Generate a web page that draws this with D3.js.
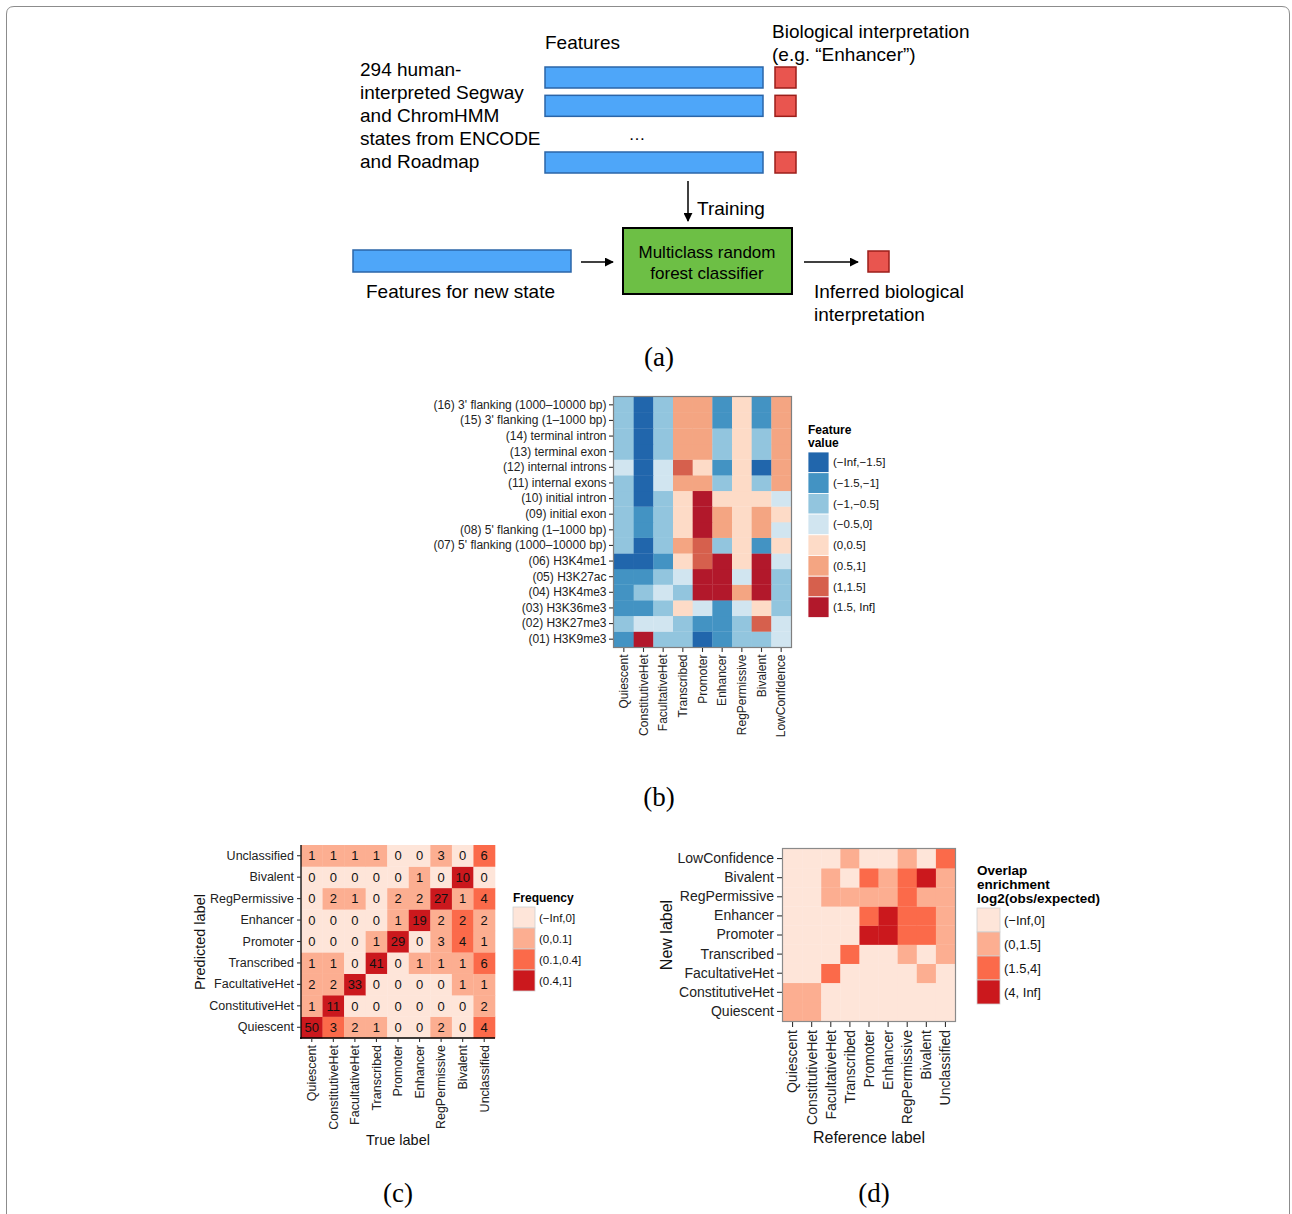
<!DOCTYPE html>
<html>
<head>
<meta charset="utf-8">
<script src="https://cdn.jsdelivr.net/npm/d3@7"></script>
<style>
  body { margin: 0; background: #fff; }
  svg { display: block; }
  text { font-family: "Liberation Sans", Arial, Helvetica, sans-serif; }
</style>
</head>
<body>
<svg id="fig" width="1292" height="1214"></svg>
<script>
// ---------- Panel (a): schematic text ----------
const sourceLines = ["294 human-", "interpreted Segway", "and ChromHMM", "states from ENCODE", "and Roadmap"];
const interpretationLines = ["Biological interpretation", "(e.g. \u201cEnhancer\u201d)"];
const classifierLines = ["Multiclass random", "forest classifier"];
const inferredLines = ["Inferred biological", "interpretation"];
const trainingSlots = [0, 1, 3];   // example rows drawn; slot 2 holds the ellipsis

// ---------- Panel (b): feature heatmap ----------
const stateNames = ["Quiescent", "ConstitutiveHet", "FacultativeHet", "Transcribed", "Promoter",
                    "Enhancer", "RegPermissive", "Bivalent", "LowConfidence"];
const featureNames = ["(01) H3K9me3", "(02) H3K27me3", "(03) H3K36me3", "(04) H3K4me3", "(05) H3K27ac",
  "(06) H3K4me1", "(07) 5' flanking (1000\u201310000 bp)", "(08) 5' flanking (1\u20131000 bp)",
  "(09) initial exon", "(10) initial intron", "(11) internal exons", "(12) internal introns",
  "(13) terminal exon", "(14) terminal intron", "(15) 3' flanking (1\u20131000 bp)",
  "(16) 3' flanking (1000\u201310000 bp)"];
// one row per feature (01..16), one column per state
const featureValues = [
  [-1.2,  2.3, -0.7, -0.8, -1.9, -1.1, -0.6, -0.7, -0.3],
  [-0.7, -0.3, -0.2, -0.8, -1.2, -1.3, -0.7,  1.3, -0.2],
  [-1.1, -1.2, -0.6,  0.3, -0.3, -1.2, -0.4,  0.2, -0.7],
  [-1.2, -0.8, -0.3, -0.7,  2.4,  1.8,  0.7,  2.0, -0.6],
  [-1.3, -1.1, -0.7, -0.2,  2.6,  1.9, -0.3,  1.7, -0.6],
  [-1.7, -1.8, -1.1,  0.2,  1.2,  2.1,  0.1,  1.9, -0.2],
  [-0.8, -1.6, -0.7,  0.6,  1.3, -0.7,  0.2, -1.2,  0.2],
  [-0.7, -1.3, -0.8,  0.3,  2.2,  0.7,  0.1,  0.6, -0.1],
  [-0.7, -1.2, -0.8,  0.3,  2.3,  0.6,  0.1,  0.6,  0.2],
  [-0.8, -1.7, -0.7,  0.2,  1.9,  0.3,  0.2,  0.3, -0.2],
  [-0.7, -1.8, -0.3,  0.7,  0.8, -0.7,  0.2, -0.8,  0.7],
  [-0.3, -1.8, -0.4,  1.2,  0.3, -1.1,  0.2, -1.6,  0.8],
  [-0.8, -1.9, -0.7,  0.8,  0.7, -0.8,  0.2, -0.9,  0.7],
  [-0.8, -1.9, -0.7,  0.8,  0.8, -0.8,  0.2, -0.8,  0.7],
  [-0.8, -1.9, -0.8,  0.7,  0.7, -1.1,  0.2, -1.2,  0.7],
  [-0.8, -1.9, -0.8,  0.7,  0.7, -1.2,  0.2, -1.2,  0.8]
];
const featureBreaks = [-1.5, -1, -0.5, 0, 0.5, 1, 1.5];
const featureBins = ["(\u2212Inf,\u22121.5]", "(\u22121.5,\u22121]", "(\u22121,\u22120.5]", "(\u22120.5,0]",
                     "(0,0.5]", "(0.5,1]", "(1,1.5]", "(1.5, Inf]"];
const featureColors = ["#2166ac", "#4393c3", "#92c5de", "#d1e5f0", "#fddbc7", "#f4a582", "#d6604d", "#b2182b"];

// ---------- Panel (c): confusion matrix ----------
const trueLabels = ["Quiescent", "ConstitutiveHet", "FacultativeHet", "Transcribed", "Promoter",
                    "Enhancer", "RegPermissive", "Bivalent", "Unclassified"];
const predictedLabels = trueLabels;
// one row per predicted label, one column per true label
const confusionCounts = [
  [50,  3,  2,  1,  0,  0,  2,  0,  4],
  [ 1, 11,  0,  0,  0,  0,  0,  0,  2],
  [ 2,  2, 33,  0,  0,  0,  0,  1,  1],
  [ 1,  1,  0, 41,  0,  1,  1,  1,  6],
  [ 0,  0,  0,  1, 29,  0,  3,  4,  1],
  [ 0,  0,  0,  0,  1, 19,  2,  2,  2],
  [ 0,  2,  1,  0,  2,  2, 27,  1,  4],
  [ 0,  0,  0,  0,  0,  1,  0, 10,  0],
  [ 1,  1,  1,  1,  0,  0,  3,  0,  6]
];
const frequencyBreaks = [0, 0.1, 0.4];
const frequencyBins = ["(\u2212Inf,0]", "(0,0.1]", "(0.1,0.4]", "(0.4,1]"];
const redColors = ["#fee5d9", "#fcae91", "#fb6a4a", "#cb181d"];

// ---------- Panel (d): overlap enrichment ----------
const referenceLabels = ["Quiescent", "ConstitutiveHet", "FacultativeHet", "Transcribed", "Promoter",
                         "Enhancer", "RegPermissive", "Bivalent", "Unclassified"];
const newLabels = ["Quiescent", "ConstitutiveHet", "FacultativeHet", "Transcribed", "Promoter",
                   "Enhancer", "RegPermissive", "Bivalent", "LowConfidence"];
// log2(obs/expected): one row per new label, one column per reference label
const overlapEnrichment = [
  [ 0.9,  1.1, -2.1, -3.0, -3.2, -2.8, -1.5, -2.6, -0.6],
  [ 0.8,  1.2, -1.8, -2.7, -3.1, -2.5, -1.7, -2.2, -0.4],
  [-1.6, -1.2,  2.8, -1.9, -2.4, -1.8, -0.7,  0.6, -0.3],
  [-1.4, -2.0, -1.1,  2.6, -1.5, -0.9,  0.7, -0.2,  0.5],
  [-2.2, -3.1, -1.6, -0.6,  4.7,  4.3,  2.2,  2.6,  0.4],
  [-2.0, -2.9, -1.2, -0.8,  3.4,  5.1,  2.7,  2.3,  0.6],
  [-1.7, -2.6,  0.6,  0.4,  0.7,  1.0,  2.4,  1.2,  0.5],
  [-1.9, -2.8,  0.5, -0.3,  3.0,  1.1,  2.9,  6.2,  0.9],
  [-0.8, -1.4, -0.5,  0.6, -0.4, -0.2,  0.8, -0.1,  2.1]
];
const enrichmentBreaks = [0, 1.5, 4];
const enrichmentBins = ["(\u2212Inf,0]", "(0,1.5]", "(1.5,4]", "(4, Inf]"];

// ---------- drawing ----------
const svg = d3.select("#fig");
const binColor = (breaks, colors) => v => colors[d3.bisectLeft(breaks, v)];

// figure frame, rounded at the top and running off the bottom edge
svg.append("path")
  .attr("d", "M6.5,1230 L6.5,14 Q6.5,6.5 14,6.5 L1282,6.5 Q1289.5,6.5 1289.5,14 L1289.5,1230")
  .attr("fill", "none").attr("stroke", "#8c8c8c").attr("stroke-width", 1);

const defs = svg.append("defs");
defs.append("marker").attr("id", "arrowhead")
  .attr("viewBox", "0 0 10 10").attr("refX", 9).attr("refY", 5)
  .attr("markerWidth", 9).attr("markerHeight", 9).attr("orient", "auto")
  .attr("markerUnits", "userSpaceOnUse")
  .append("path").attr("d", "M0,0 L10,5 L0,10 z").attr("fill", "#000");

function panelLetter(label, x, y) {
  svg.append("text").attr("x", x).attr("y", y).attr("text-anchor", "middle")
    .style("font-family", "'Liberation Serif', 'Times New Roman', serif")
    .style("font-size", "27px").attr("fill", "#000").text(label);
}

// ===== Panel (a) =====
(function drawSchematic() {
  const g = svg.append("g");
  const aFont = "19px";
  const blue = "#4ea6f9", blueEdge = "#2b65a8";
  const red = "#e9554f", redEdge = "#9c1e1a";

  g.append("text").attr("x", 545).attr("y", 49).style("font-size", aFont).text("Features");
  g.selectAll(null).data(interpretationLines).join("text")
    .attr("x", 772).attr("y", (d, i) => 38 + i * 23).style("font-size", aFont).text(d => d);
  g.selectAll(null).data(sourceLines).join("text")
    .attr("x", 360).attr("y", (d, i) => 76 + i * 23).style("font-size", aFont).text(d => d);

  const slotY = d3.scaleLinear().domain([0, 3]).range([67, 152]);
  g.selectAll(null).data(trainingSlots).join("rect")
    .attr("x", 545).attr("y", d => slotY(d)).attr("width", 218).attr("height", 21)
    .attr("fill", blue).attr("stroke", blueEdge).attr("stroke-width", 1.5);
  g.selectAll(null).data(trainingSlots).join("rect")
    .attr("x", 775).attr("y", d => slotY(d)).attr("width", 21).attr("height", 21)
    .attr("fill", red).attr("stroke", redEdge).attr("stroke-width", 1.5);
  g.append("text").attr("x", 637).attr("y", slotY(2) + 16).attr("text-anchor", "middle")
    .style("font-size", "17px").text("\u2026");

  // training arrow
  g.append("line").attr("x1", 688).attr("y1", 181).attr("x2", 688).attr("y2", 221)
    .attr("stroke", "#000").attr("stroke-width", 1.5).attr("marker-end", "url(#arrowhead)");
  g.append("text").attr("x", 697).attr("y", 215).style("font-size", aFont).text("Training");

  // classifier box
  g.append("rect").attr("x", 623).attr("y", 228).attr("width", 169).attr("height", 66)
    .attr("fill", "#6dbf45").attr("stroke", "#000").attr("stroke-width", 2);
  g.selectAll(null).data(classifierLines).join("text")
    .attr("x", 707).attr("y", (d, i) => 258 + i * 21).attr("text-anchor", "middle")
    .style("font-size", "17px").text(d => d);

  // new state
  g.append("rect").attr("x", 353).attr("y", 250).attr("width", 218).attr("height", 22)
    .attr("fill", blue).attr("stroke", blueEdge).attr("stroke-width", 1.5);
  g.append("text").attr("x", 366).attr("y", 298).style("font-size", aFont).text("Features for new state");
  g.append("line").attr("x1", 581).attr("y1", 262).attr("x2", 613).attr("y2", 262)
    .attr("stroke", "#000").attr("stroke-width", 1.5).attr("marker-end", "url(#arrowhead)");
  g.append("line").attr("x1", 804).attr("y1", 262).attr("x2", 858).attr("y2", 262)
    .attr("stroke", "#000").attr("stroke-width", 1.5).attr("marker-end", "url(#arrowhead)");
  g.append("rect").attr("x", 868).attr("y", 251).attr("width", 21).attr("height", 21)
    .attr("fill", red).attr("stroke", redEdge).attr("stroke-width", 1.5);
  g.selectAll(null).data(inferredLines).join("text")
    .attr("x", 814).attr("y", (d, i) => 298 + i * 23).style("font-size", aFont).text(d => d);

  panelLetter("(a)", 659, 366);
})();

// ===== generic tile heatmap =====
function tileMap(o) {
  const g = svg.append("g");
  const x = d3.scaleBand().domain(o.cols).range([o.x0, o.x1]);
  const y = d3.scaleBand().domain(o.rows).range([o.y1, o.y0]);   // first row at the bottom
  const cells = [];
  o.rows.forEach((r, i) => o.cols.forEach((c, j) => cells.push({ r, c, i, j, v: o.value(i, j) })));

  g.selectAll("rect.cell").data(cells).join("rect").attr("class", "cell")
    .attr("x", d => x(d.c)).attr("y", d => y(d.r))
    .attr("width", x.bandwidth() + 0.3).attr("height", y.bandwidth() + 0.3)
    .attr("fill", d => o.color(d.v));

  if (o.cellText) {
    g.selectAll("text.num").data(cells).join("text").attr("class", "num")
      .attr("x", d => x(d.c) + x.bandwidth() / 2).attr("y", d => y(d.r) + y.bandwidth() / 2)
      .attr("dy", "0.36em").attr("text-anchor", "middle")
      .style("font-size", o.cellFont).attr("fill", "#111").text(d => o.cellText(d.i, d.j));
  }

  if (o.frame) {
    g.append("rect").attr("x", o.x0 - 0.5).attr("y", o.y0 - 0.5)
      .attr("width", o.x1 - o.x0 + 1).attr("height", o.y1 - o.y0 + 1)
      .attr("fill", "none").attr("stroke", o.frame).attr("stroke-width", 1.2);
  }

  // axes
  const yAxis = d3.axisLeft(y).tickSize(o.tick).tickPadding(o.pad);
  const xAxis = d3.axisBottom(x).tickSize(o.tick).tickPadding(o.pad);
  const ya = g.append("g").attr("transform", `translate(${o.x0 - (o.frame ? 1 : 0)},0)`).call(yAxis);
  const xa = g.append("g").attr("transform", `translate(0,${o.y1 + (o.frame ? 1 : 0)})`).call(xAxis);
  [ya, xa].forEach(a => {
    a.select(".domain").attr("stroke", o.axisLine ? "#000" : "none").attr("stroke-width", 1.3);
    a.selectAll(".tick line").attr("stroke", "#333").attr("stroke-width", 1.1);
    a.selectAll("text").attr("fill", "#222").style("font-size", o.labelFont)
      .style("font-family", "'Liberation Sans', Arial, sans-serif");
  });
  if (o.axisLine) {
    ya.select(".domain").attr("d", `M0,${o.y0}V${o.y1 + 1}`);
    xa.select(".domain").attr("d", `M${o.x0 - 1},0H${o.x1}`);
  }
  xa.selectAll(".tick text")
    .attr("transform", "rotate(-90)").attr("text-anchor", "end")
    .attr("x", -(o.tick + o.pad)).attr("y", 0).attr("dy", "0.35em");
  return g;
}

function legend(o) {
  const g = svg.append("g");
  g.selectAll(null).data(o.title).join("text")
    .attr("x", o.x).attr("y", (d, i) => o.titleY + i * o.titleStep)
    .style("font-size", o.titleFont).style("font-weight", "bold").attr("fill", "#000").text(d => d);
  g.selectAll("rect").data(o.colors).join("rect")
    .attr("x", o.x).attr("y", (d, i) => o.keyY + i * o.keyH)
    .attr("width", o.keyW).attr("height", o.keyH)
    .attr("fill", d => d).attr("stroke", o.keyStroke).attr("stroke-width", 0.8);
  g.selectAll("text.lab").data(o.labels).join("text").attr("class", "lab")
    .attr("x", o.x + o.keyW + 4).attr("y", (d, i) => o.keyY + (i + 0.5) * o.keyH)
    .attr("dy", "0.35em").style("font-size", o.labelFont).attr("fill", "#111").text(d => d);
}

// ===== Panel (b) =====
tileMap({
  rows: featureNames, cols: stateNames,
  x0: 614, x1: 791, y0: 397, y1: 647,
  value: (i, j) => featureValues[i][j],
  color: binColor(featureBreaks, featureColors),
  frame: "#7f7f7f", tick: 4, pad: 2.5,
  labelFont: "12px", axisLine: false
});
legend({
  x: 808, title: ["Feature", "value"], titleY: 434, titleStep: 13, titleFont: "12px",
  keyY: 452, keyH: 20.7, keyW: 21, keyStroke: "#ffffff",
  colors: featureColors, labels: featureBins, labelFont: "11.5px"
});
panelLetter("(b)", 659, 806);

// ===== Panel (c) =====
const columnTotals = trueLabels.map((t, j) => d3.sum(confusionCounts, row => row[j]));
tileMap({
  rows: predictedLabels, cols: trueLabels,
  x0: 301, x1: 495, y0: 845, y1: 1038,
  value: (i, j) => confusionCounts[i][j] / columnTotals[j],
  color: binColor(frequencyBreaks, redColors),
  cellText: (i, j) => confusionCounts[i][j], cellFont: "13px",
  frame: null, tick: 4, pad: 3,
  labelFont: "12.5px", axisLine: true
});
svg.append("text").attr("transform", "translate(205,942) rotate(-90)").attr("text-anchor", "middle")
  .style("font-size", "14.5px").attr("fill", "#111").text("Predicted label");
svg.append("text").attr("x", 398).attr("y", 1145).attr("text-anchor", "middle")
  .style("font-size", "14.5px").attr("fill", "#111").text("True label");
legend({
  x: 513, title: ["Frequency"], titleY: 902, titleStep: 13, titleFont: "12px",
  keyY: 907, keyH: 21, keyW: 22, keyStroke: "#d0d0d0",
  colors: redColors, labels: frequencyBins, labelFont: "11.5px"
});
panelLetter("(c)", 398, 1202);

// ===== Panel (d) =====
tileMap({
  rows: newLabels, cols: referenceLabels,
  x0: 783, x1: 955, y0: 849, y1: 1021,
  value: (i, j) => overlapEnrichment[i][j],
  color: binColor(enrichmentBreaks, redColors),
  frame: "#8a8a8a", tick: 5, pad: 3,
  labelFont: "14px", axisLine: false
});
svg.append("text").attr("transform", "translate(672,935) rotate(-90)").attr("text-anchor", "middle")
  .style("font-size", "16px").attr("fill", "#111").text("New label");
svg.append("text").attr("x", 869).attr("y", 1143).attr("text-anchor", "middle")
  .style("font-size", "16px").attr("fill", "#111").text("Reference label");
legend({
  x: 977, title: ["Overlap", "enrichment", "log2(obs/expected)"], titleY: 875, titleStep: 14, titleFont: "13.5px",
  keyY: 908, keyH: 24, keyW: 23, keyStroke: "#d0d0d0",
  colors: redColors, labels: enrichmentBins, labelFont: "13px"
});
panelLetter("(d)", 874, 1202);
</script>
</body>
</html>
